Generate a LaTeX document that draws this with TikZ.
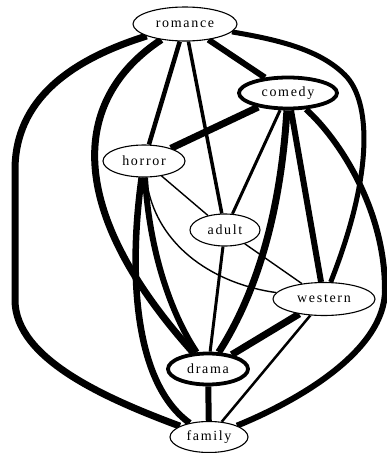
\documentclass[tikz,border=0pt]{standalone}
\usepackage{fontspec}
\setmainfont{Liberation Serif}[LetterSpace=12]
\usetikzlibrary{shapes.geometric,backgrounds}
\begin{document}
\begin{tikzpicture}[x=1pt,y=-1pt,
  nd/.style={ellipse,draw,fill=white,line width=1.1pt,inner sep=0pt,
    font=\fontsize{14}{16}\selectfont},
  ndthick/.style={nd,line width=3.8pt},
  edge/.style={line width=#1,line cap=butt}]
\useasboundingbox (0,0) rectangle (387,453);
\node[nd,minimum width=104pt,minimum height=34pt] (romance) at (185,24) {romance};
\node[ndthick,minimum width=98pt,minimum height=31pt] (comedy) at (288,93) {comedy};
\node[nd,minimum width=82pt,minimum height=32pt] (horror) at (144,161) {horror};
\node[nd,minimum width=70pt,minimum height=32pt] (adult) at (225,230) {adult};
\node[nd,minimum width=102pt,minimum height=33pt] (western) at (324,299) {western};
\node[ndthick,minimum width=80pt,minimum height=31pt] (drama) at (208,369) {drama};
\node[nd,minimum width=78pt,minimum height=31pt] (family) at (209,437) {family};
\begin{scope}[on background layer]
% romance
\draw[edge=7pt] (romance) .. controls (70,60) and (15,100) .. (15,170) -- (15,300)
   .. controls (15,360) and (110,400) .. (family);
\draw[edge=7pt] (romance) .. controls (70,100) and (65,210) .. (drama);
\draw[edge=4.5pt] (romance) -- (horror);
\draw[edge=3.5pt] (romance) -- (adult);
\draw[edge=6pt] (romance) -- (comedy);
\draw[edge=5pt] (romance) .. controls (280,40) and (320,50) .. (345,75)
   .. controls (370,100) and (375,170) .. (western);
% comedy
\draw[edge=7pt] (comedy) -- (horror);
\draw[edge=3pt] (comedy) -- (adult);
\draw[edge=7pt] (comedy) .. controls (282,190) and (265,280) .. (drama);
\draw[edge=6pt] (comedy) -- (western);
\draw[edge=6pt] (comedy) .. controls (340,140) and (385,210) .. (385,290)
   .. controls (385,350) and (300,400) .. (family);
% horror
\draw[edge=1.4pt] (horror) -- (adult);
\draw[edge=1.4pt] (horror) .. controls (155,250) and (220,285) .. (western);
\draw[edge=6pt] (horror) .. controls (150,260) and (175,320) .. (drama);
\draw[edge=6.5pt] (horror) .. controls (130,260) and (130,380) .. (family);
% adult
\draw[edge=1.4pt] (adult) -- (western);
\draw[edge=3pt] (adult) -- (drama);
% western
\draw[edge=7pt] (western) -- (drama);
\draw[edge=2.5pt] (western) -- (family);
% drama
\draw[edge=6pt] (drama) -- (family);
\end{scope}
\end{tikzpicture}
\end{document}
